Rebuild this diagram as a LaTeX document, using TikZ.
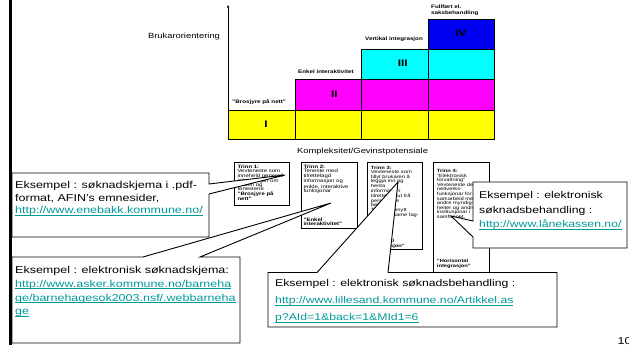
\documentclass[tikz,border=0pt]{standalone}
\usepackage{fontspec}
\setmainfont{Liberation Sans}[FakeStretch=1.25]
\usetikzlibrary{arrows.meta}

\definecolor{cellyellow}{HTML}{FFFF00}
\definecolor{cellmagenta}{HTML}{FF00FF}
\definecolor{cellcyan}{HTML}{00FFFF}
\definecolor{cellblue}{HTML}{0000F0}
\definecolor{linkteal}{HTML}{009999}

% underlined hyperlink text
\newcommand{\weblink}[1]{{\color{linkteal}\setbox0\hbox{#1}\rlap{\rule[-1.5pt]{\wd0}{0.6pt}}\box0}}

\tikzset{
  cell/.style={draw=black, line width=0.8pt},
  stagebox/.style={draw=black, line width=1pt},
  stagetext/.style={inner sep=0pt, align=left, anchor=north west,
    font=\fontsize{4.8}{4.2}\selectfont},
  stagetextloose/.style={stagetext, font=\fontsize{4.6}{4.6}\selectfont},
  levellabel/.style={inner sep=0pt, font=\fontsize{5}{5.6}\selectfont\bfseries},
  numeral/.style={inner sep=0pt, font=\fontsize{9.5}{10}\selectfont\bfseries},
  axislabel/.style={inner sep=0pt, font=\fontsize{7.5}{9}\selectfont},
  calloutbox/.style={draw=black, fill=white, line width=0.9pt, line join=miter},
  callouttext/.style={inner sep=0pt, align=left, anchor=north west},
}

\begin{document}
\begin{tikzpicture}[x=1pt,y=-1pt]
\useasboundingbox (0,0) rectangle (629,345);

% slide margin bar
\draw[line width=3pt] (10.3,-2) -- (10.3,347);

% staircase of service levels
\path[cell, fill=cellyellow] (228,110) rectangle (295,139);
\path[cell, fill=cellyellow] (295,110) rectangle (361,139);
\path[cell, fill=cellyellow] (361,110) rectangle (428,139);
\path[cell, fill=cellyellow] (428,110) rectangle (494,139);
\path[cell, fill=cellmagenta] (295,79) rectangle (361,110);
\path[cell, fill=cellmagenta] (361,79) rectangle (428,110);
\path[cell, fill=cellmagenta] (428,79) rectangle (494,110);
\path[cell, fill=cellcyan] (361,49) rectangle (428,79);
\path[cell, fill=cellcyan] (428,49) rectangle (494,79);
\path[cell, fill=cellblue] (428,19) rectangle (494,49);

\node[numeral] (lvlI) at (266,124) {I};
\node[numeral] (lvlII) at (334.3,94) {II};
\node[numeral] (lvlIII) at (402.7,63.3) {III};
\node[numeral] (lvlIV) at (461,33.7) {IV};

% vertical axis
\coordinate (axisfoot) at (228,139);
\coordinate (axistip) at (228,5);
\draw[line width=0.8pt, -{Stealth[length=3pt,width=2.6pt]}] (axisfoot) -- (axistip);

\node[axislabel] (ylabel) at (184,37) {Brukarorientering};
\node[axislabel] (xlabel) at (362.6,152) {Kompleksitet/Gevinstpotensiale};

% level titles
\node[levellabel, anchor=west] (title1) at (232,102.3) {"Brosjyre på nett"};
\node[levellabel, anchor=west] (title2) at (298,72) {Enkel interaktivitet};
\node[levellabel, anchor=west] (title3) at (365,39.3) {Vertikal integrasjon};
\node[levellabel, anchor=north west, align=left] (title4) at (431,4.6) {Fullført el.\\saksbehandling};

% stage descriptions
\draw[stagebox] (234,162) rectangle (289,205);
\node[stagetext] (stage1) at (237.3,165) {\textbf{Trinn 1:}\\Vevteneste som\\inneheld generell\\informasjon om\\etaten og\\tenestene\\\textbf{"Brosjyre på}\\\textbf{nett"}};

\draw[stagebox] (301,162) rectangle (357,228);
\node[stagetext] (stage2) at (303.3,165) {\textbf{Trinn 2:}\\Teneste med\\tilrettelagd\\informasjon og\\enkle, interaktive\\funksjonar};
\node[stagetext] (stage2b) at (303.3,217.6) {\textbf{"Enkel}\\\textbf{interaktivitet"}};

\draw[stagebox] (367,162) rectangle (422,249);
\node[stagetextloose] (stage3) at (370.7,165.6) {\textbf{Trinn 3:}\\Vevteneste som\\tillyt brukaren å\\leggja inn og\\henta\\informasjon\\tilrettelagt ut frå\\personlege\\behov.\\Tenester knytt\\innanfor same fag-\\område.};
\node[stagetextloose] (stage3b) at (370.7,239) {\textbf{"Vertikal}\\\textbf{integrasjon"}};

\draw[stagebox] (433,162) rectangle (489,273);
\node[stagetextloose] (stage4) at (436.7,169) {\textbf{Trinn 4:}\\"Elektronisk\\forvaltning"\\Vevteneste der\\nettverks-\\funksjonar for\\samarbeid med\\andre myndig-\\heiter og andre\\institusjonar i\\samfunnet.};
\node[stagetextloose] (stage4b) at (436.7,259.3) {\textbf{"Horisontal}\\\textbf{integrasjon"}};

% example callouts
\coordinate (c1nw) at (12,173);  \coordinate (c1ne) at (209,173);
\coordinate (c1se) at (209,237); \coordinate (c1sw) at (12,237);
\coordinate (c1b1) at (209,184); \coordinate (c1b2) at (209,194);
\coordinate (c1tip) at (285,175);
\draw[calloutbox] (c1nw) -- (c1ne) -- (c1b1) -- (c1tip) -- (c1b2) -- (c1se) -- (c1sw) -- cycle;
\node[callouttext, font=\fontsize{10}{12.5}\selectfont] (ex1) at (15,181.4)
  {Eksempel : søknadskjema i .pdf-\\format, AFIN's emnesider,\\\weblink{http://www.enebakk.kommune.no/}};

\coordinate (c2nw) at (12,257);  \coordinate (c2ne) at (240,257);
\coordinate (c2se) at (240,343); \coordinate (c2sw) at (12,343);
\coordinate (c2b1) at (143,257); \coordinate (c2b2) at (200,257);
\coordinate (c2tip) at (331,203);
\draw[calloutbox] (c2nw) -- (c2b1) -- (c2tip) -- (c2b2) -- (c2ne) -- (c2se) -- (c2sw) -- cycle;
\node[callouttext, font=\fontsize{10}{13.7}\selectfont] (ex2) at (15,266.4)
  {Eksempel : elektronisk søknadskjema:\\\weblink{http://www.asker.kommune.no/barneha}\\\weblink{ge/barnehagesok2003.nsf/.webbarneha}\\\weblink{ge}};

\coordinate (c3nw) at (268,272.5);  \coordinate (c3ne) at (557,272.5);
\coordinate (c3se) at (557,327);    \coordinate (c3sw) at (268,327);
\coordinate (c3b1) at (317,272.5);  \coordinate (c3b2) at (388,272.5);
\coordinate (c3tip) at (398,182);
\draw[calloutbox] (c3nw) -- (c3b1) -- (c3tip) -- (c3b2) -- (c3ne) -- (c3se) -- (c3sw) -- cycle;
\node[callouttext, font=\fontsize{9.8}{17}\selectfont] (ex3) at (275,279.5)
  {Eksempel : elektronisk søknadsbehandling :\\\weblink{http://www.lillesand.kommune.no/Artikkel.as}\\\weblink{p?AId=1\&back=1\&MId1=6}};

\coordinate (c4nw) at (473,182);  \coordinate (c4ne) at (627,182);
\coordinate (c4se) at (627,248);  \coordinate (c4sw) at (473,248);
\coordinate (c4b1) at (473,221);  \coordinate (c4b2) at (473,237);
\coordinate (c4tip) at (451,216);
\draw[calloutbox] (c4nw) -- (c4ne) -- (c4se) -- (c4sw) -- (c4b2) -- (c4tip) -- (c4b1) -- cycle;
\node[callouttext, font=\fontsize{9.8}{14.5}\selectfont] (ex4) at (479,191.5)
  {Eksempel : elektronisk\\søknadsbehandling :\\\weblink{http://www.lånekassen.no/}};

% slide number
\node[inner sep=0pt, anchor=west, font=\fontsize{10}{12}\selectfont] (slidenum) at (617.5,341) {10};
\end{tikzpicture}
\end{document}
